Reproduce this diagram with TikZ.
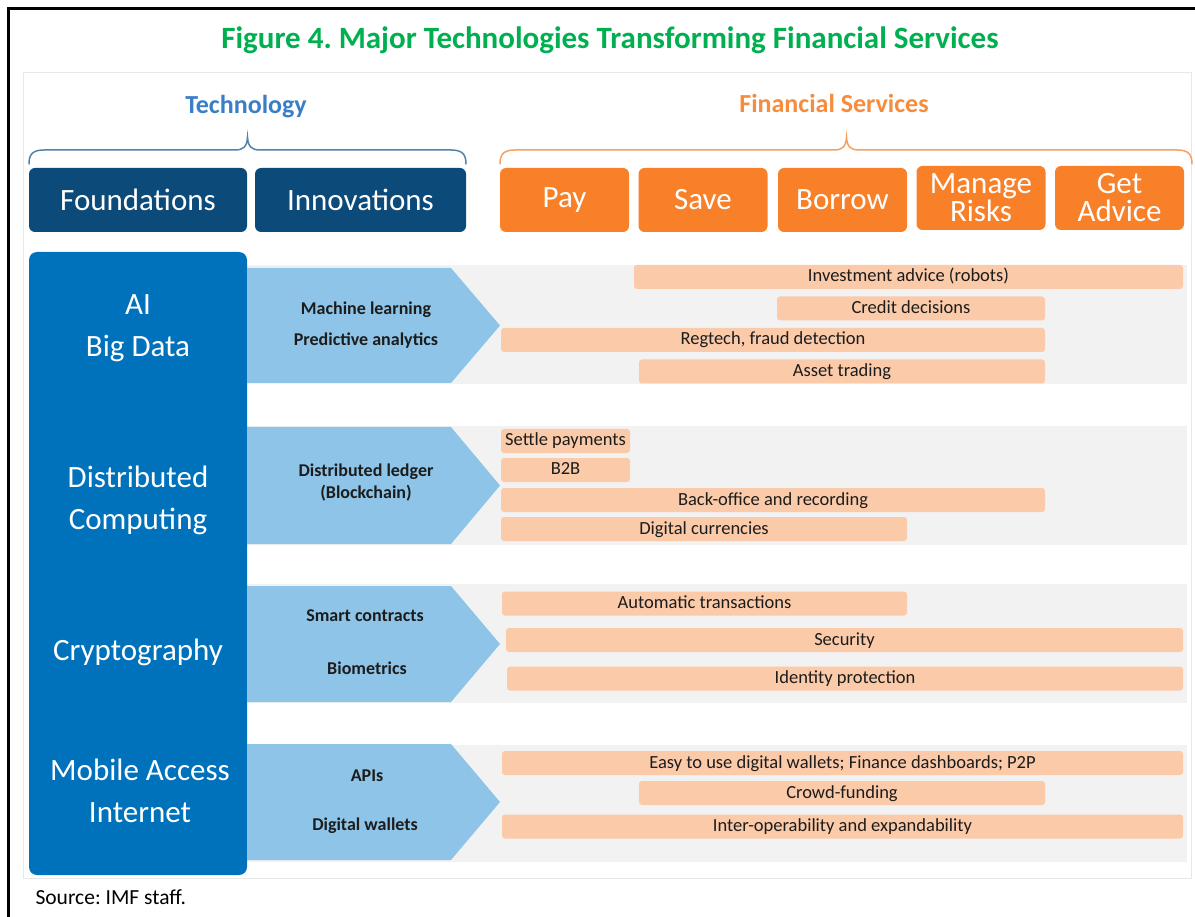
\documentclass[tikz,border=0pt]{standalone}
\usepackage{fontspec}
\setmainfont{Carlito}
\definecolor{titlegreen}{RGB}{0,176,80}
\definecolor{techblue}{RGB}{58,126,200}
\definecolor{techbrace}{RGB}{84,130,172}
\definecolor{fsorange}{RGB}{247,140,60}
\definecolor{fsbrace}{RGB}{248,160,95}
\definecolor{navy}{RGB}{12,74,122}
\definecolor{boxorange}{RGB}{247,128,40}
\definecolor{colblue}{RGB}{0,114,187}
\definecolor{arrowblue}{RGB}{142,196,231}
\definecolor{bandgray}{RGB}{242,242,242}
\definecolor{peach}{RGB}{251,202,168}
\definecolor{bartext}{RGB}{28,28,28}
\definecolor{panelline}{RGB}{232,232,232}
\begin{document}
\frenchspacing
\begin{tikzpicture}[x=1pt,y=-1pt,
  navybox/.style={fill=navy, rounded corners=6pt, text=white, minimum height=64pt, inner sep=0pt, font=\fontsize{31}{31}\selectfont},
  orangebox/.style={fill=boxorange, rounded corners=6pt, text=white, minimum height=64pt, minimum width=129pt, inner sep=0pt, align=center, font=\fontsize{31}{28}\selectfont},
  coltext/.style={text=white, align=center, font=\fontsize{31}{42}\selectfont},
  arrtext/.style={text=bartext, align=center, font=\bfseries\fontsize{18}{22}\selectfont},
  bar/.style={fill=peach, rounded corners=3pt, minimum height=24pt, inner sep=0pt, text=bartext, text height=14pt, text depth=4pt, font=\fontsize{18.5}{20}\selectfont},
  bracepath/.style={line width=1.5pt, line cap=round},
  arrowshape/.style={fill=arrowblue},
  band/.style={fill=bandgray}
]
\useasboundingbox (0,0) rectangle (1195,917);
\fill[white] (0,0) rectangle (1195,917);
% outer frame
\draw[line width=2.5pt] (8.5,917) -- (8.5,8.5) -- (1195,8.5);
% title
\node[text=titlegreen, font=\bfseries\fontsize{31}{31}\selectfont] (title) at (610,40) {Figure 4. Major Technologies Transforming Financial Services};
% panel
\draw[panelline, fill=white, line width=1pt] (23,73) rectangle (1191,878);
% headings
\node[text=techblue, font=\bfseries\fontsize{26}{26}\selectfont] (tech) at (246,107) {Technology};
\node[text=fsorange, font=\bfseries\fontsize{26}{26}\selectfont] (fs) at (834,103) {Financial Services};
% braces
\draw[bracepath, techbrace] (29,164) .. controls (29,154) and (33,150) .. (44,150) -- (235,150) .. controls (243,150) and (247,147) .. (247.5,137) .. controls (248,147) and (252,150) .. (260,150) -- (451,150) .. controls (462,150) and (466,154) .. (466,164);
\draw[bracepath, fsbrace] (500,164) .. controls (500,154) and (504,150) .. (515,150) -- (834,150) .. controls (842,150) and (846,147) .. (846.5,137) .. controls (847,147) and (851,150) .. (859,150) -- (1177,150) .. controls (1188,150) and (1192,154) .. (1192,164);
% header boxes
\node[navybox, minimum width=218pt] (found) at (138,200) {Foundations};
\node[navybox, minimum width=211pt] (innov) at (360.5,200) {Innovations};
\node[orangebox] (pay) at (564.5,200) {Pay};
\node[orangebox] (save) at (703,200) {Save};
\node[orangebox] (borrow) at (842.5,200) {Borrow};
\node[orangebox] (manage) at (981,198) {Manage\\Risks};
\node[orangebox] (advice) at (1119.5,198) {Get\\Advice};
% bands
\fill[band] (247,265) rectangle (1187,384);
\fill[band] (247,426) rectangle (1187,545);
\fill[band] (247,584) rectangle (1187,703);
\fill[band] (247,745) rectangle (1187,862);
% column
\node[fill=colblue, rounded corners=8pt, minimum width=218pt, minimum height=623pt, inner sep=0pt] (col) at (138,563.5) {};
\node[coltext] (c1) at (138,328) {AI\\Big Data};
\node[coltext] (c2) at (138,500) {Distributed\\Computing};
\node[coltext] (c3) at (138,652) {Cryptography};
\node[coltext] (c4) at (140,791) {Mobile Access\\Internet};
% arrows
\fill[arrowshape] (247,268) -- (451,268) -- (500,325.5) -- (451,383) -- (247,383) -- cycle;
\fill[arrowshape] (247,427) -- (451,427) -- (500,485.5) -- (451,544) -- (247,544) -- cycle;
\fill[arrowshape] (247,586) -- (451,586) -- (500,644) -- (451,702) -- (247,702) -- cycle;
\fill[arrowshape] (247,744) -- (451,744) -- (500,802) -- (451,860) -- (247,860) -- cycle;
\node[arrtext] (a11) at (366,310) {Machine learning};
\node[arrtext] (a12) at (366,341) {Predictive analytics};
\node[arrtext] (a21) at (366,483) {Distributed ledger\\(Blockchain)};
\node[arrtext] (a31) at (365,616) {Smart contracts};
\node[arrtext] (a32) at (367,668) {Biometrics};
\node[arrtext] (a41) at (367,776) {APIs};
\node[arrtext] (a42) at (365,826) {Digital wallets};
% bars
\node[bar, minimum width=549pt] (b11) at (908.5,277) {Investment advice (robots)};
\node[bar, minimum width=268pt] (b12) at (911,308.5) {Credit decisions};
\node[bar, minimum width=544pt] (b13) at (773,340) {Regtech, fraud detection};
\node[bar, minimum width=406pt] (b14) at (842,371.5) {Asset trading};
\node[bar, minimum width=129pt] (b21) at (565.5,441) {Settle payments};
\node[bar, minimum width=129pt] (b22) at (565.5,470) {B2B};
\node[bar, minimum width=544pt] (b23) at (773,500) {Back-office and recording};
\node[bar, minimum width=406pt] (b24) at (704,529) {Digital currencies};
\node[bar, minimum width=405pt] (b31) at (704.5,603.5) {Automatic transactions};
\node[bar, minimum width=677pt] (b32) at (844.5,640) {Security};
\node[bar, minimum width=676pt] (b33) at (845,678.5) {Identity protection};
\node[bar, minimum width=681pt] (b41) at (842.5,763) {Easy to use digital wallets; Finance dashboards; P2P};
\node[bar, minimum width=406pt] (b42) at (842,793) {Crowd-funding};
\node[bar, minimum width=681pt] (b43) at (842.5,826.5) {Inter-operability and expandability};
% source
\node[anchor=west, font=\fontsize{21.5}{22}\selectfont] (src) at (32,897) {Source: IMF staff.};
\end{tikzpicture}
\end{document}
